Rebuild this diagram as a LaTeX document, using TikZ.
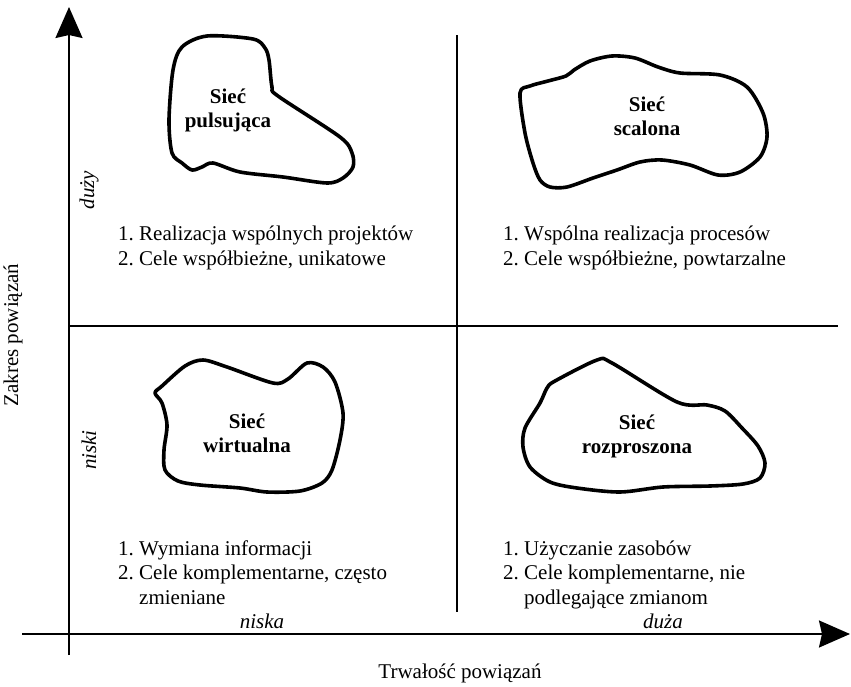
\documentclass[tikz,border=0pt]{standalone}
\usepackage{fontspec}
\setmainfont{Liberation Serif}
\usetikzlibrary{arrows.meta}
\frenchspacing

\begin{document}
\begin{tikzpicture}[x=1pt,y=-1pt,
  blob/.style={line width=3.6pt,line join=round},
  axis/.style={line width=2pt,-{Stealth[length=31pt,width=27pt,inset=3pt]}},
  split/.style={line width=1.5pt},
  lbl/.style={font=\bfseries\fontsize{21}{24}\selectfont,align=center},
  txt/.style={font=\fontsize{21}{24.5}\selectfont,align=left,anchor=base west,inner sep=0pt},
  ax/.style={font=\itshape\fontsize{21}{24}\selectfont,inner sep=0pt}]
\useasboundingbox (0,0) rectangle (851,686);

% axes
\coordinate (ybot) at (69,655);
\coordinate (ytop) at (69,7);
\coordinate (xleft) at (22,634);
\coordinate (xright) at (850,634);
\draw[axis] (ybot) -- (ytop);
\draw[axis] (xleft) -- (xright);

% quadrants
\coordinate (hl) at (69,326);
\coordinate (hr) at (838,326);
\coordinate (vt) at (457,35);
\coordinate (vb) at (457,612);
\draw[split] (hl) -- (hr);
\draw[split] (vt) -- (vb);

% networks
\draw[blob] plot[smooth cycle,tension=0.5] coordinates {(182,47) (207,36) (253,39) (265,48)
  (269,60) (272,87) (278,96) (340,137) (352,153) (353,167) (343,178) (327,183) (283,177)
  (240,172) (213,163) (202,167) (192,170) (182,163) (172,153) (169,120) (173,70)};
\draw[blob] plot[smooth cycle,tension=0.5] coordinates {(520,93) (530,86) (548,81) (566,76)
  (574,70) (590,61) (612,56) (635,58) (658,67) (680,73) (720,75) (747,87) (763,113)
  (767,137) (760,157) (740,172) (718,175) (690,165) (662,160) (640,162) (617,170)
  (593,178) (567,187) (550,187) (540,180) (533,163) (525,133)};
\draw[blob] plot[smooth cycle,tension=0.5] coordinates {(155,393) (162,386) (185,366) (203,360)
  (227,367) (273,383) (288,379) (307,363) (323,367) (335,382) (343,413) (340,440)
  (332,470) (322,483) (300,491) (267,492) (240,488) (200,485) (178,481) (165,470)
  (164,450) (167,425) (162,403)};
\draw[blob] plot[smooth cycle,tension=0.5] coordinates {(525,428) (540,403) (547,388) (555,381)
  (597,360) (612,363) (677,402) (707,405) (725,411) (742,428) (758,446) (765,463)
  (760,478) (743,484) (710,486) (663,487) (620,492) (577,488) (550,482) (530,467) (523,447)};

\node[lbl] (pulsujaca) at (228,110) {Sieć\\pulsująca};
\node[lbl] (scalona) at (647,116) {Sieć\\scalona};
\node[lbl] (wirtualna) at (247,433) {Sieć\\wirtualna};
\node[lbl] (rozproszona) at (637,436) {Sieć\\rozproszona};

% descriptions (anchored at the last line)
\node[txt] (opisA) at (118,265) {1. Realizacja wspólnych projektów\\2. Cele współbieżne, unikatowe};
\node[txt] (opisB) at (503,265) {1. Wspólna realizacja procesów\\2. Cele współbieżne, powtarzalne};
\node[txt] (opisC) at (118,604) {1. Wymiana informacji\\2. Cele komplementarne, często\\\phantom{2.}\ zmieniane};
\node[txt] (opisD) at (503,604) {1. Użyczanie zasobów\\2. Cele komplementarne, nie\\\phantom{2.}\ podlegające zmianom};

% axis labels
\node[ax,rotate=90] (duzy) at (89,190) {duży};
\node[ax,rotate=90] (niski) at (89,450) {niski};
\node[ax] (niska) at (262,621) {niska};
\node[ax] (duza) at (663,621) {duża};
\node[font=\fontsize{21}{24}\selectfont] (trwalosc) at (460,673) {Trwałość powiązań};
\node[font=\fontsize{21}{24}\selectfont,rotate=90] (zakres) at (13,335) {Zakres powiązań};
\end{tikzpicture}
\end{document}
